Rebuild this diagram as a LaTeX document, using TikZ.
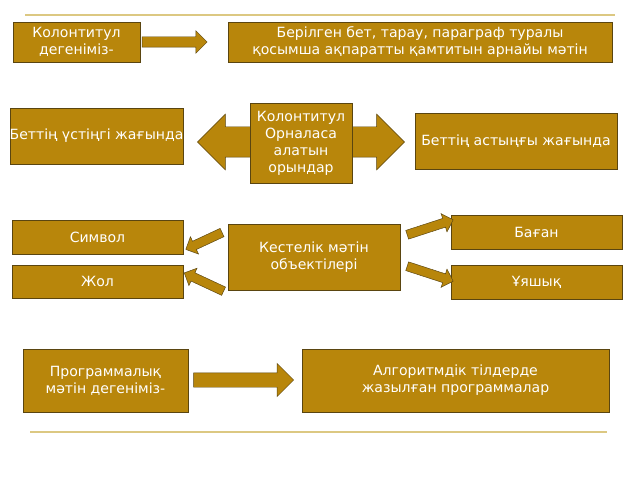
\documentclass[tikz,border=0pt]{standalone}
\usepackage{fontspec}
\setmainfont{DejaVu Sans}
\usetikzlibrary{shapes.arrows}
\definecolor{gold}{HTML}{B8860B}
\definecolor{rim}{HTML}{5A4510}
\definecolor{rule}{HTML}{DCC882}
\begin{document}
\begin{tikzpicture}[x=0.03cm, y=-0.03cm,
    box/.style={rectangle, draw=rim, fill=gold, text=white, align=center, inner sep=1pt, font=\fontsize{12}{14.5}\selectfont},
    blockarrow/.style={single arrow, draw=rim, fill=gold, inner xsep=0pt, text height=0pt, text depth=0pt},
    twinarrow/.style={double arrow, draw=rim, fill=gold, inner xsep=0pt, text height=0pt, text depth=0pt}]
    \fill[white] (0,0) rectangle (640,480);
    \draw[rule, line width=1.5pt] (25,15) -- (615,15);
    \draw[rule, line width=1.5pt] (30,432) -- (607,432);

    % what a running head is
    \node[box, minimum width=3.81cm, minimum height=1.2cm] (head) at (76.5,42) {Колонтитул\\дегеніміз-};
    \node[blockarrow, inner ysep=0.15cm, single arrow head extend=0.18cm, minimum height=1.95cm] (headarr) at (172,42) {};
    \node[box, minimum width=11.52cm, minimum height=1.2cm] (def) at (420,42) {Берілген бет, тарау, параграф туралы\\қосымша ақпаратты қамтитын арнайы мәтін};

    % where it goes
    \node[twinarrow, inner ysep=0.45cm, double arrow head extend=0.38cm, minimum height=6.21cm] (place) at (301,142) {};
    \node[box, minimum width=5.19cm, minimum height=1.68cm] (top) at (96.5,136) {\makebox[0pt]{Беттің үстіңгі жағында}};
    \node[box, minimum width=6.06cm, minimum height=1.68cm] (bottom) at (516,141) {\makebox[0pt]{Беттің астыңғы жағында}};
    \node[box, minimum width=3.06cm, minimum height=2.4cm] (where) at (301,143) {Колонтитул\\Орналаса\\алатын\\орындар};

    % table objects
    \node[box, minimum width=5.16cm, minimum height=1.98cm] (table) at (314,257) {Кестелік мәтін\\объектілері};
    \node[box, minimum width=5.13cm, minimum height=1.02cm] (sym) at (97.5,237) {Символ};
    \node[box, minimum width=5.13cm, minimum height=0.99cm] (row) at (97.5,281.5) {Жол};
    \node[box, minimum width=5.13cm, minimum height=1.02cm] (col) at (536.5,232) {Баған};
    \node[box, minimum width=5.13cm, minimum height=1.02cm] (cell) at (536.5,282) {Ұяшық};
    \foreach \name/\px/\py/\ang/\len in {a1/206/240/-155/1.2cm, a2/206/283/155/1.3cm, a3/428/228/18/1.45cm, a4/428/273/-18/1.45cm}
      \node[blockarrow, inner ysep=0.13cm, single arrow head extend=0.15cm, minimum height=\len, rotate=\ang] (\name) at (\px,\py) {};

    % program text
    \node[box, minimum width=4.95cm, minimum height=1.89cm] (prog) at (105.5,380.5) {Программалық\\мәтін дегеніміз-};
    \node[blockarrow, inner ysep=0.21cm, single arrow head extend=0.28cm, minimum height=3cm] (progarr) at (240,380) {};
    \node[box, minimum width=9.21cm, minimum height=1.89cm] (algo) at (455.5,380.5) {Алгоритмдік тілдерде\\жазылған программалар};
\end{tikzpicture}
\end{document}
